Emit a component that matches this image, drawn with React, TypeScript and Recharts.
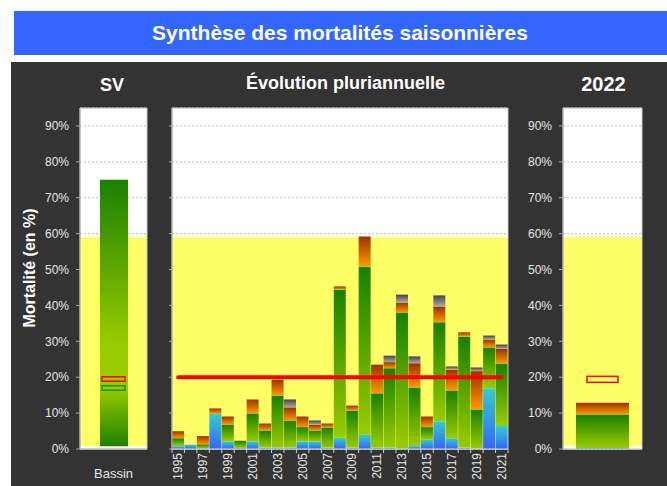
import React from 'react';
import { ComposedChart, Bar, Line, Scatter, XAxis, YAxis, CartesianGrid, ReferenceArea } from 'recharts';

// ---- data ----
const years = ['1995','1996','1997','1998','1999','2000','2001','2002','2003','2004','2005','2006','2007','2008','2009','2010','2011','2012','2013','2014','2015','2016','2017','2018','2019','2020','2021'];
const blueVals = [0.8, 1.2, 0.2, 9.8, 2.1, 0.3, 2.1, 0.4, 0.4, 0.4, 2.1, 2.1, 0.4, 3.1, 0.4, 4.0, 0.4, 0.4, 0.2, 0.8, 2.6, 7.7, 3.0, 0.4, 0.1, 16.9, 6.4];
const greenVals = [2.2, 0, 1.1, 0, 4.7, 2.0, 7.8, 4.75, 14.5, 7.5, 4.0, 3.05, 5.6, 41.3, 10.3, 46.8, 15.1, 22.1, 37.8, 16.3, 3.5, 27.6, 13.3, 30.9, 10.9, 11.4, 17.4];
const orangeVals = [1.95, 0, 2.3, 1.5, 2.25, 0, 3.9, 1.95, 4.4, 3.7, 2.95, 1.6, 1.1, 0.9, 1.4, 8.4, 8.0, 1.7, 2.8, 6.8, 2.95, 4.4, 5.8, 1.2, 10.7, 2.2, 4.1];
const grayVals = [0, 0, 0, 0, 0, 0, 0, 0, 0, 2.2, 0, 1.2, 0, 0, 0, 0, 0, 1.8, 2.2, 1.9, 0, 3.1, 0.9, 0, 1.0, 1.1, 1.2];
const seuil = 20;

const svCategories = ['Bassin'];
const svLow = [0.8];
const svHigh = [75];
const svRed = [19.5];
const svGreen = [17.0];

const curCategories = ['2022'];
const curBlue = [0.3];
const curGreen = [9.3];
const curOrange = [3.3];
const curRed = [19.4];

const yTicks = [0, 10, 20, 30, 40, 50, 60, 70, 80, 90];
const yDomain = [0, 95];
const bandLow = 0.8;
const bandHigh = 59;

// ---- tables ----
const midData = years.map((y, i) => ({
  year: y,
  blue: blueVals[i],
  green: greenVals[i],
  orange: orangeVals[i],
  gray: grayVals[i],
  seuil,
}));
const svData = svCategories.map((c, i) => ({
  cat: c,
  range: [svLow[i], svHigh[i]],
  rouge: svRed[i],
  vert: svGreen[i],
}));
const curData = curCategories.map((c, i) => ({
  cat: c,
  blue: curBlue[i],
  green: curGreen[i],
  orange: curOrange[i],
  rouge: curRed[i],
}));

const FONT = '"Liberation Sans", Arial, Helvetica, sans-serif';
const TICK_COLOR = '#e6e6e6';
const pct = (v: number) => `${v}%`;

const Grads = ({ p }: { p: string }) => (
  <defs>
    <linearGradient id={`${p}-blue`} x1="0" y1="1" x2="0" y2="0">
      <stop offset="0" stopColor="#3366ff" />
      <stop offset="1" stopColor="#33cccc" />
    </linearGradient>
    <linearGradient id={`${p}-green`} x1="0" y1="1" x2="0" y2="0">
      <stop offset="0" stopColor="#99cc00" />
      <stop offset="1" stopColor="#1a8000" />
    </linearGradient>
    <linearGradient id={`${p}-orange`} x1="0" y1="1" x2="0" y2="0">
      <stop offset="0" stopColor="#ff9900" />
      <stop offset="1" stopColor="#993300" />
    </linearGradient>
    <linearGradient id={`${p}-gray`} x1="0" y1="1" x2="0" y2="0">
      <stop offset="0" stopColor="#aaaaaa" />
      <stop offset="1" stopColor="#444444" />
    </linearGradient>
    <linearGradient id={`${p}-sv`} x1="0" y1="0" x2="0" y2="1">
      <stop offset="0" stopColor="#1a8000" />
      <stop offset="0.62" stopColor="#99cc00" />
      <stop offset="0.78" stopColor="#99cc00" />
      <stop offset="1" stopColor="#1f8000" />
    </linearGradient>
  </defs>
);

const makeMark = (w: number, h: number, color: string) => (props: any) => {
  const { cx, cy } = props;
  if (cx == null || cy == null) return <g />;
  return <rect x={cx - w / 2} y={cy - h / 2} width={w} height={h} fill="none" stroke={color} strokeWidth={1.5} />;
};
const RedSV = makeMark(23, 4.5, '#ff0000');
const GreenSV = makeMark(23, 4.5, '#1a9000');
const RedCur = makeMark(31, 6, '#ff0000');

const YearTick = (props: any) => {
  const { x, y, payload, index } = props;
  const off = payload && payload.offset ? payload.offset : 0;
  const show = index % 2 === 0;
  const last = index === years.length - 1;
  return (
    <g>
      <line x1={x - off} x2={x - off} y1={y - 4} y2={y} stroke="#cccccc" />
      {last && <line x1={x + off} x2={x + off} y1={y - 4} y2={y} stroke="#cccccc" />}
      {show && (
        <text x={x} y={y} transform={`rotate(-90, ${x}, ${y})`} textAnchor="end" dominantBaseline="central" fill={TICK_COLOR} fontSize={12}>
          {payload.value}
        </text>
      )}
    </g>
  );
};

const SVChart = () => (
  <ComposedChart width={160} height={486} data={svData} margin={{ top: 108, right: 13, bottom: 7, left: 0 }}>
    <Grads p="sv" />
    <CartesianGrid vertical={false} fill="#ffffff" stroke="#bdbdbd" strokeDasharray="2 2" />
    <ReferenceArea y1={bandLow} y2={bandHigh} fill="#ffff66" fillOpacity={1} stroke="none" />
    <ReferenceArea y1={0} y2={95} fill="none" stroke="#c8c8c8" />
    <XAxis dataKey="cat" height={30} tickSize={6} tickMargin={14} tickLine={false} axisLine={{ stroke: '#cccccc' }} tick={{ fill: TICK_COLOR, fontSize: 13 }} />
    <YAxis width={80} domain={yDomain} ticks={yTicks} tickFormatter={pct} tickSize={4} tickMargin={7} axisLine={{ stroke: '#aaaaaa' }} tickLine={{ stroke: '#aaaaaa' }} tick={{ fill: TICK_COLOR, fontSize: 12 }} />
    <Bar dataKey="range" fill="url(#sv-sv)" barSize={28} isAnimationActive={false} />
    <Scatter dataKey="rouge" shape={RedSV} isAnimationActive={false} />
    <Scatter dataKey="vert" shape={GreenSV} isAnimationActive={false} />
  </ComposedChart>
);

const MidChart = () => (
  <ComposedChart width={370} height={486} data={midData} margin={{ top: 108, right: 12, bottom: 0, left: 0 }} barCategoryGap={0} barGap={0}>
    <Grads p="mid" />
    <CartesianGrid vertical={false} fill="#ffffff" stroke="#bdbdbd" strokeDasharray="2 2" />
    <ReferenceArea y1={bandLow} y2={bandHigh} fill="#ffff66" fillOpacity={1} stroke="none" />
    <ReferenceArea y1={0} y2={95} fill="none" stroke="#c8c8c8" />
    <XAxis dataKey="year" interval={0} height={37} tickSize={4} tickMargin={0} tickLine={false} axisLine={{ stroke: '#dddddd' }} tick={<YearTick />} />
    <YAxis width={22} domain={yDomain} ticks={yTicks} tickFormatter={() => ''} tickSize={3} axisLine={{ stroke: '#aaaaaa' }} tickLine={{ stroke: '#aaaaaa' }} />
    <Bar dataKey="blue" stackId="a" fill="url(#mid-blue)" isAnimationActive={false} />
    <Bar dataKey="green" stackId="a" fill="url(#mid-green)" isAnimationActive={false} />
    <Bar dataKey="orange" stackId="a" fill="url(#mid-orange)" isAnimationActive={false} />
    <Bar dataKey="gray" stackId="a" fill="url(#mid-gray)" isAnimationActive={false} />
    <Line dataKey="seuil" stroke="#ff0000" strokeWidth={4} strokeLinecap="round" dot={false} activeDot={false} isAnimationActive={false} />
  </ComposedChart>
);

const CurChart = () => (
  <ComposedChart width={147} height={486} data={curData} margin={{ top: 108, right: 25, bottom: 0, left: 0 }}>
    <Grads p="cur" />
    <CartesianGrid vertical={false} fill="#ffffff" stroke="#bdbdbd" strokeDasharray="2 2" />
    <ReferenceArea y1={bandLow} y2={bandHigh} fill="#ffff66" fillOpacity={1} stroke="none" />
    <ReferenceArea y1={0} y2={95} fill="none" stroke="#c8c8c8" />
    <XAxis dataKey="cat" height={37} tick={false} tickLine={false} axisLine={{ stroke: '#dddddd' }} />
    <YAxis width={43} domain={yDomain} ticks={yTicks} tickFormatter={pct} tickSize={4} tickMargin={7} axisLine={{ stroke: '#aaaaaa' }} tickLine={{ stroke: '#aaaaaa' }} tick={{ fill: TICK_COLOR, fontSize: 12 }} />
    <Bar dataKey="blue" stackId="a" fill="url(#cur-blue)" barSize={53} isAnimationActive={false} />
    <Bar dataKey="green" stackId="a" fill="url(#cur-green)" barSize={53} isAnimationActive={false} />
    <Bar dataKey="orange" stackId="a" fill="url(#cur-orange)" barSize={53} isAnimationActive={false} />
    <Scatter dataKey="rouge" shape={RedCur} isAnimationActive={false} />
  </ComposedChart>
);

export default function App() {
  return (
    <div style={{ position: 'absolute', left: 0, top: 0, width: 667, height: 486, background: '#ffffff', overflow: 'hidden', fontFamily: FONT }}>
      <div style={{ position: 'absolute', left: 14, top: 11, width: 653, height: 44, background: '#3366ff' }} />
      <div style={{ position: 'absolute', left: 11, top: 62, width: 656, height: 424, background: '#333333' }} />
      <div style={{ position: 'absolute', left: 0, top: 0 }}><SVChart /></div>
      <div style={{ position: 'absolute', left: 150, top: 0 }}><MidChart /></div>
      <div style={{ position: 'absolute', left: 520, top: 0 }}><CurChart /></div>
      <svg width={667} height={486} style={{ position: 'absolute', left: 0, top: 0, pointerEvents: 'none' }}>
        <text x={340} y={40} textAnchor="middle" fill="#ffffff" fontWeight="bold" fontSize={21}>Synthèse des mortalités saisonnières</text>
        <text x={112} y={90.5} textAnchor="middle" fill="#ffffff" fontWeight="bold" fontSize={18}>SV</text>
        <text x={345.5} y={88.5} textAnchor="middle" fill="#ffffff" fontWeight="bold" fontSize={18}>Évolution pluriannuelle</text>
        <text x={603.5} y={90.5} textAnchor="middle" fill="#ffffff" fontWeight="bold" fontSize={20}>2022</text>
        <text x={35} y={268} transform="rotate(-90, 35, 268)" textAnchor="middle" fill="#ffffff" fontWeight="bold" fontSize={16}>Mortalité (en %)</text>
      </svg>
    </div>
  );
}
